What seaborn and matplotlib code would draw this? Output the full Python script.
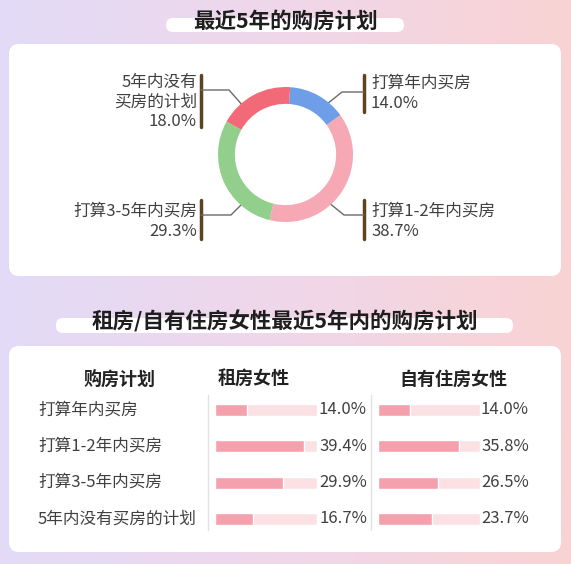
import numpy as np
import pandas as pd
import matplotlib
matplotlib.use("Agg")
import matplotlib.pyplot as plt
import matplotlib.transforms as mtransforms
from matplotlib.patches import FancyBboxPatch
import seaborn as sns

# ---- data ----
donut_labels = ["打算年内买房", "打算1-2年内买房", "打算3-5年内买房", "5年内没有\n买房的计划"]
donut_values = [14.0, 38.7, 29.3, 18.0]
donut_colors = ["#6e9ee8", "#f6a9b5", "#92cf8c", "#f26a78"]

plans = ["打算年内买房", "打算1-2年内买房", "打算3-5年内买房", "5年内没有买房的计划"]
renter_pct = [14.0, 39.4, 29.9, 16.7]
owner_pct = [14.0, 35.8, 26.5, 23.7]
bar_max = 45

title_top = "最近5年的购房计划"
title_bottom = "租房/自有住房女性最近5年内的购房计划"
col_headers = ["购房计划", "租房女性", "自有住房女性"]

sns.set_theme(style="white")
plt.rcParams["font.family"] = ["Noto Sans CJK SC", "DejaVu Sans"]

W, H = 571, 564
fig = plt.figure(figsize=(W / 100, H / 100), dpi=100)

# background in pixel coordinates
bg = fig.add_axes([0, 0, 1, 1])
bg.set_xlim(0, W)
bg.set_ylim(H, 0)
bg.axis("off")
left_c = np.array([226, 219, 247]) / 255
mid_c = np.array([240, 215, 234]) / 255
right_c = np.array([249, 211, 211]) / 255
t = np.linspace(0, 1, 300)
grad = np.where(t[:, None] < 0.5,
                left_c + (mid_c - left_c) * (t[:, None] / 0.5),
                mid_c + (right_c - mid_c) * ((t[:, None] - 0.5) / 0.5))
bg.imshow(grad[None, :, :], extent=(0, W, H, 0), aspect="auto", zorder=0)


def panel(x0, y0, x1, y1, r):
    bg.add_patch(FancyBboxPatch((x0 + r, y0 + r), x1 - x0 - 2 * r, y1 - y0 - 2 * r,
                                boxstyle=f"round,pad={r}", fc="white", ec="none", zorder=1))


panel(9, 44, 561, 276, 10)
panel(9, 346, 561, 552, 10)
panel(166, 18, 404, 32, 7)
panel(56, 318, 513, 333, 7)

bg.text(285, 21, title_top, ha="center", va="center", fontsize=15.5, fontweight="bold",
        color="#1e1e1e", zorder=3)
bg.text(285, 321, title_bottom, ha="center", va="center", fontsize=15.5, fontweight="bold",
        color="#1e1e1e", zorder=3)

# ---- donut ----
cx, cy, R = 285.5, 154.5, 67.5
dax = fig.add_axes([(cx - R) / W, 1 - (cy + R) / H, 2 * R / W, 2 * R / H])
dax.pie(donut_values, colors=donut_colors, startangle=86, counterclock=False,
        radius=1, wedgeprops=dict(width=0.25, edgecolor="none"))
dax.set_xlim(-1, 1)
dax.set_ylim(-1, 1)
dax.set_aspect("auto")
dax.axis("off")

txt_c = "#404040"
line_c = "#6a6a6a"
bar_c = "#5e4322"
fs = 12

# right side labels
bg.plot([364, 364], [75, 112], color=bar_c, lw=2.5, zorder=3)
bg.plot([364, 342, 322], [92, 92, 108], color=line_c, lw=1, zorder=3)
bg.text(371, 83, donut_labels[0], ha="left", va="center", fontsize=fs, color=txt_c, zorder=3)
bg.text(371, 104, f"{donut_values[0]:.1f}%", ha="left", va="center", fontsize=fs, color=txt_c, zorder=3)

bg.plot([364, 364], [200, 239], color=bar_c, lw=2.5, zorder=3)
bg.plot([328, 344, 364], [202, 215, 215], color=line_c, lw=1, zorder=3)
bg.text(371, 211, donut_labels[1], ha="left", va="center", fontsize=fs, color=txt_c, zorder=3)
bg.text(371, 232, f"{donut_values[1]:.1f}%", ha="left", va="center", fontsize=fs, color=txt_c, zorder=3)

# left side labels
bg.plot([201, 201], [200, 239], color=bar_c, lw=2.5, zorder=3)
bg.plot([201, 231, 248], [215, 215, 198], color=line_c, lw=1, zorder=3)
bg.text(197, 211, donut_labels[2], ha="right", va="center", fontsize=fs, color=txt_c, zorder=3)
bg.text(197, 232, f"{donut_values[2]:.1f}%", ha="right", va="center", fontsize=fs, color=txt_c, zorder=3)

bg.plot([201, 201], [75, 127], color=bar_c, lw=2.5, zorder=3)
bg.plot([201, 229, 251], [90, 90, 115], color=line_c, lw=1, zorder=3)
for i, line in enumerate(donut_labels[3].split("\n") + [f"{donut_values[3]:.1f}%"]):
    bg.text(197, 83 + 19 * i, line, ha="right", va="center", fontsize=fs, color=txt_c, zorder=3)

# ---- table with bars ----
hdr_y = 379
bg.text(119, hdr_y, col_headers[0], ha="center", va="center", fontsize=13, fontweight="bold", color="#222222", zorder=3)
bg.text(254, hdr_y, col_headers[1], ha="center", va="center", fontsize=13, fontweight="bold", color="#222222", zorder=3)
bg.text(453, hdr_y, col_headers[2], ha="center", va="center", fontsize=13, fontweight="bold", color="#222222", zorder=3)

bg.plot([208, 208], [395, 530], color="#e2e2e2", lw=1, zorder=3)
bg.plot([371, 371], [395, 530], color="#e2e2e2", lw=1, zorder=3)

row_top, row_h = 391.8, 36.33
for i, p in enumerate(plans):
    bg.text(38, row_top + row_h * (i + 0.5), p, ha="left", va="center", fontsize=fs, color=txt_c, zorder=3)

df = pd.DataFrame({"plan": plans, "renter": renter_pct, "owner": owner_pct, "track": [bar_max] * len(plans)})


def bar_column(x0, x1, col, label_x):
    ax = fig.add_axes([x0 / W, 1 - (row_top + 4 * row_h) / H, (x1 - x0) / W, 4 * row_h / H])
    ax.set_facecolor("none")
    sns.barplot(data=df, x="track", y="plan", color="#fbe1e4", saturation=1, width=0.33, ax=ax, zorder=1)
    sns.barplot(data=df, x=col, y="plan", color="#f4a0ad", saturation=1, width=0.33, ax=ax, zorder=2)
    ax.set_xlim(0, bar_max)
    ax.set_ylim(3.5, -0.5)
    ax.axis("off")
    tr = mtransforms.blended_transform_factory(bg.transData, ax.transData)
    for i, v in enumerate(df[col]):
        ax.text(label_x, i, f"{v:.1f}%", transform=tr, ha="right", va="center",
                fontsize=fs, color=txt_c, clip_on=False)


bar_column(215, 317, "renter", 367)
bar_column(378, 480, "owner", 529)

fig.savefig("out.png", dpi=100)
